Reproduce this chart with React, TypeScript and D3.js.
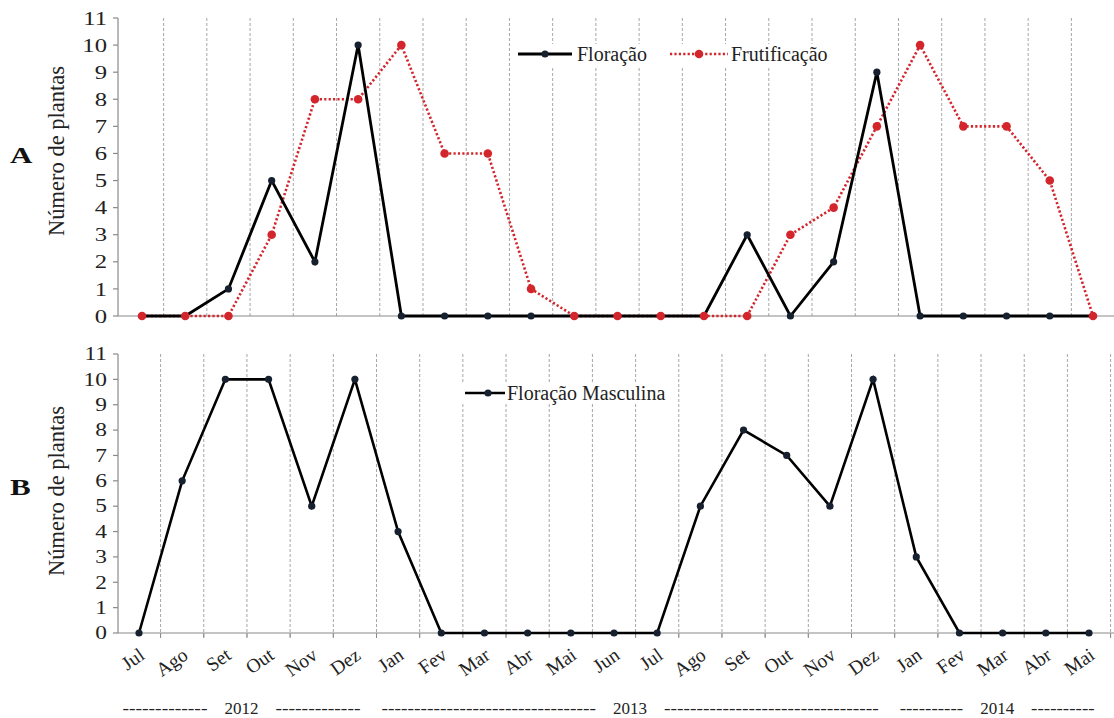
import React from "react";
import * as d3 from "d3";

const months = ["Jul","Ago","Set","Out","Nov","Dez","Jan","Fev","Mar","Abr","Mai","Jun","Jul","Ago","Set","Out","Nov","Dez","Jan","Fev","Mar","Abr","Mai"];
const floracao = [0,0,1,5,2,10,0,0,0,0,0,0,0,0,3,0,2,9,0,0,0,0,0];
const frutificacao = [0,0,0,3,8,8,10,6,6,1,0,0,0,0,0,3,4,7,10,7,7,5,0];
const floracaoMasculina = [0,6,10,10,5,10,4,0,0,0,0,0,0,5,8,7,5,10,3,0,0,0,0];
const yTicks = [0,1,2,3,4,5,6,7,8,9,10,11];
const yearLabels = ["2012","2013","2014"];
const yearStart = [0,6,18];
const yearEnd = [5,17,22];

const FONT = "Liberation Serif";
const W = 1114, H = 718;
const AXIS_X = 118;
const GRID = "#a6a6a6";
const AXIS = "#8a8a8a";
const RED = "#d3262c";
const DOT = "#16202e";

function Panel({ x, y, letter, letterY, titleY, tickSize, xAxisTicks, children }: any) {
  return (
    <g>
      {months.map((_, i) => (
        <line key={"g" + i} x1={x(i + 0.5)} x2={x(i + 0.5)} y1={y(11)} y2={y(0) + (xAxisTicks ? 5 : 0)}
          stroke={GRID} strokeWidth={1} strokeDasharray="3,2" />
      ))}
      {xAxisTicks && months.map((_, i) => (
        <line key={"t" + i} x1={x(i + 0.5)} x2={x(i + 0.5)} y1={y(0)} y2={y(0) + 5} stroke={AXIS} strokeWidth={1} />
      ))}
      <line x1={AXIS_X} x2={W} y1={y(0)} y2={y(0)} stroke={AXIS} strokeWidth={1.2} />
      <line x1={AXIS_X} x2={AXIS_X} y1={y(11)} y2={y(0)} stroke={AXIS} strokeWidth={1.2} />
      {yTicks.map(t => (
        <g key={"y" + t}>
          <line x1={AXIS_X - 5} x2={AXIS_X} y1={y(t)} y2={y(t)} stroke={AXIS} strokeWidth={1.2} />
          <text transform={`translate(${AXIS_X - 11},${y(t)}) scale(1.3,1)`} textAnchor="end" dy="0.35em"
            fontFamily={FONT} fontSize={tickSize} fill="#222">{t}</text>
        </g>
      ))}
      <text transform={`translate(57,${titleY}) rotate(-90)`} textAnchor="middle" fontFamily={FONT}
        fontSize={22.5} fill="#222" dy="0.3em">Número de plantas</text>
      <text transform={`translate(10,${letterY}) scale(1.35,1)`} fontFamily={FONT} fontWeight="bold"
        fontSize={23} fill="#111">{letter}</text>
      {children}
    </g>
  );
}

export default function App() {
  const xA = d3.scaleLinear().domain([0, 22]).range([142, 1093]);
  const yA = d3.scaleLinear().domain([0, 11]).range([316, 18]);
  const xB = d3.scaleLinear().domain([0, 22]).range([139, 1089]);
  const yB = d3.scaleLinear().domain([0, 11]).range([633, 354]);

  const lineA = d3.line<number>().x((_, i) => xA(i)).y(d => yA(d));
  const lineB = d3.line<number>().x((_, i) => xB(i)).y(d => yB(d));

  return (
    <svg width={W} height={H} style={{ position: "absolute", left: 0, top: 0, background: "#fff" }}>
      <rect width={W} height={H} fill="#fff" />
      <Panel x={xA} y={yA} letter="A" letterY={163} titleY={151} tickSize={19} xAxisTicks={false}>
        <rect x={514} y={44} width={318} height={22} fill="#fff" />
        <path d={lineA(frutificacao) || ""} fill="none" stroke={RED} strokeWidth={2.6} strokeDasharray="2.2,2.2" />
        <path d={lineA(floracao) || ""} fill="none" stroke="#000" strokeWidth={2.8} />
        {floracao.map((v, i) => <circle key={"fa" + i} cx={xA(i)} cy={yA(v)} r={3.6} fill={DOT} />)}
        {frutificacao.map((v, i) => <circle key={"fr" + i} cx={xA(i)} cy={yA(v)} r={4.3} fill={RED} />)}
        <line x1={518} x2={572} y1={54} y2={54} stroke="#000" strokeWidth={2.8} />
        <circle cx={545} cy={54} r={3.6} fill={DOT} />
        <text x={577} y={54} dy="0.33em" fontFamily={FONT} fontSize={20} fill="#222">Floração</text>
        <line x1={670} x2={728} y1={54} y2={54} stroke={RED} strokeWidth={2.6} strokeDasharray="2.2,2.2" />
        <circle cx={699} cy={54} r={4.3} fill={RED} />
        <text x={731} y={54} dy="0.33em" fontFamily={FONT} fontSize={20} fill="#222">Frutificação</text>
      </Panel>
      <Panel x={xB} y={yB} letter="B" letterY={495} titleY={491} tickSize={18} xAxisTicks={true}>
        <rect x={461} y={382} width={213} height={22} fill="#fff" />
        <path d={lineB(floracaoMasculina) || ""} fill="none" stroke="#000" strokeWidth={2.6} />
        {floracaoMasculina.map((v, i) => <circle key={"fm" + i} cx={xB(i)} cy={yB(v)} r={3.6} fill={DOT} />)}
        <line x1={465} x2={505} y1={393} y2={393} stroke="#000" strokeWidth={2.6} />
        <circle cx={488} cy={393} r={3.6} fill={DOT} />
        <text x={507} y={393} dy="0.33em" fontFamily={FONT} fontSize={20} fill="#222">Floração Masculina</text>
        {months.map((m, i) => (
          <text key={"m" + i} transform={`translate(${xB(i) + 7},658) rotate(-35)`} textAnchor="end"
            fontFamily={FONT} fontSize={19.5} fill="#222">{m}</text>
        ))}
      </Panel>
      {yearLabels.map((lab, k) => {
        const a = xB(yearStart[k] - 0.5) + 5;
        const b = xB(yearEnd[k] + 0.5) - 16;
        const c = (a + b) / 2;
        const l1 = c - 34 - a;
        const l2 = b - (c + 34);
        const ty = 714;
        return (
          <g key={lab}>
            <text x={a} y={ty} fontFamily={FONT} fontSize={17} fill="#222" textLength={l1} lengthAdjust="spacingAndGlyphs">{"-".repeat(Math.round(l1 / 6.5))}</text>
            <text x={c} y={ty} textAnchor="middle" fontFamily={FONT} fontSize={17} fill="#222">{lab}</text>
            <text x={c + 34} y={ty} fontFamily={FONT} fontSize={17} fill="#222" textLength={l2} lengthAdjust="spacingAndGlyphs">{"-".repeat(Math.round(l2 / 6.5))}</text>
          </g>
        );
      })}
    </svg>
  );
}
